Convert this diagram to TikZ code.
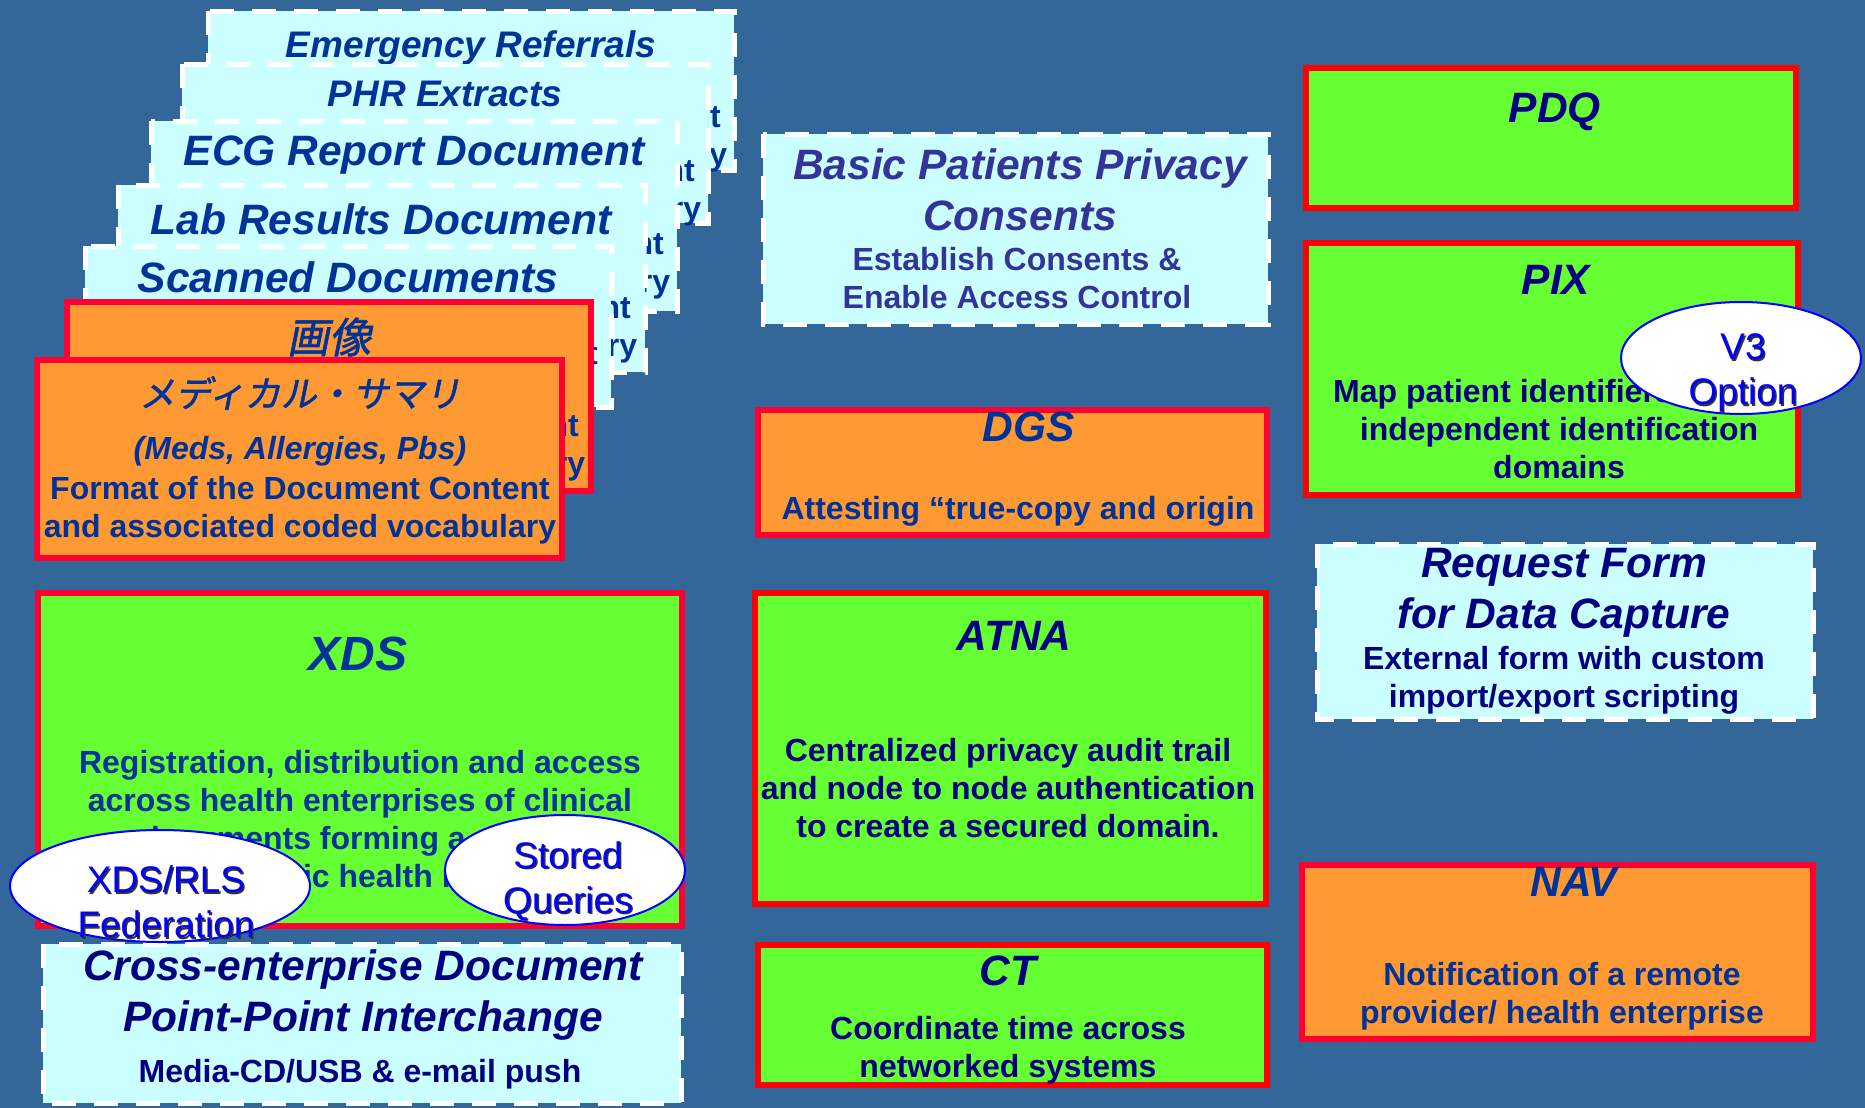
\documentclass[tikz,border=0pt]{standalone}
\usepackage{fontspec}
\setmainfont{Liberation Sans}
\newfontfamily\jpfont[FakeSlant=0.2,FakeBold=1.5]{Noto Sans CJK JP}

\definecolor{bgblue}{RGB}{51,102,153}
\definecolor{paleCyan}{RGB}{204,255,255}
\definecolor{limeGreen}{RGB}{102,255,51}
\definecolor{paleOrange}{RGB}{255,153,51}
\definecolor{redA}{RGB}{255,0,0}
\definecolor{redB}{RGB}{255,0,51}
\definecolor{inkA}{RGB}{0,51,153}
\definecolor{inkB}{RGB}{0,0,128}
\definecolor{inkC}{RGB}{51,51,153}

\tikzset{
  cardbox/.style={fill=paleCyan, draw=white, line width=2.5pt, dash pattern=on 12pt off 9pt},
  greenbox/.style={fill=limeGreen, draw=redA, line width=3pt},
  orangebox/.style={fill=paleOrange, draw=redB, line width=3pt},
  bubble/.style={fill=white, draw=blue, line width=1pt},
  bigtitle/.style={font=\fontsize{21.25}{25.5}\selectfont\bfseries\itshape, align=center, inner sep=0pt},
  smalltitle/.style={font=\fontsize{18.5}{22}\selectfont\bfseries\itshape, align=center, inner sep=0pt},
  blurb/.style={font=\fontsize{16}{19}\selectfont\bfseries, align=center, inner sep=0pt},
  jptitle/.style={font={\jpfont\fontsize{#1}{#1}\selectfont}, inner sep=0pt},
  bubtext/.style={font=\fontsize{18.5}{22.5}\selectfont, align=center, inner sep=0pt, text=blue},
  bubshadow/.style={bubtext, text=black!80}
}

\begin{document}
\begin{tikzpicture}[x=0.5pt,y=-0.5pt]
  % Background
  \fill[bgblue] (0,0) rectangle (1865,1108);
  % Content profiles, back to front
  \draw[cardbox] (208,11) rectangle (734,170);
  \node[smalltitle,text=inkA] (emergTitle) at (471,48) {Emergency Referrals};
  \node[blurb,text=inkA] (emergText) at (471,138) {Format of the Document Content\\and associated coded vocabulary};
  \draw[cardbox] (182,64) rectangle (708,223);
  \node[smalltitle,text=inkA] (phrTitle) at (445,94) {PHR Extracts};
  \node[blurb,text=inkA] (phrText) at (445,192) {Format of the Document Content\\and associated coded vocabulary};
  \draw[cardbox] (151,121) rectangle (677,311);
  \node[bigtitle,text=inkA] (ecgTitle) at (414,155) {ECG Report Document};
  \node[blurb,text=inkA] (ecgText) at (414,265) {Format of the Document Content\\and associated coded vocabulary};
  \draw[cardbox] (118,185) rectangle (645,372);
  \node[bigtitle,text=inkA] (labTitle) at (381,219) {Lab Results Document};
  \node[blurb,text=inkA] (labText) at (381,329) {Format of the Document Content\\and associated coded vocabulary};
  \draw[cardbox] (85,246) rectangle (611,407);
  \node[bigtitle,text=inkA] (scanTitle) at (348,277) {Scanned Documents};
  \node[blurb,text=inkA] (scanText) at (348,353) {Format of the Document Content};
  \draw[orangebox] (67,302) rectangle (591,491);
  \node[jptitle=21,text=inkA] (imgTitle) at (329,337) {画像};
  \node[blurb,text=inkA] (imgText) at (329,447) {Format of the Document Content\\and associated coded vocabulary};
  \draw[orangebox] (37,360) rectangle (562,558);
  \node[jptitle=18,text=inkA] (sumTitle) at (300,393) {メディカル・サマリ};
  \node[blurb,text=inkA,font=\fontsize{16}{19}\selectfont\bfseries\itshape] (sumMeds) at (300,451) {(Meds, Allergies, Pbs)};
  \node[blurb,text=inkA] (sumText) at (300,510) {Format of the Document Content\\and associated coded vocabulary};
  % Privacy and signatures
  \draw[cardbox] (763,134) rectangle (1268,324);
  \node[bigtitle,text=inkC] (bppcTitle) at (1020,190) {Basic Patients Privacy\\Consents};
  \node[blurb,text=inkC] (bppcText) at (1017,278) {Establish Consents \&\\Enable Access Control};
  \draw[orangebox] (758,410) rectangle (1267,535);
  \node[bigtitle,text=inkA] (dgsTitle) at (1029,427) {DGS};
  \node[blurb,text=inkA] (dgsText) at (1018,511) {Attesting “true-copy and origin};
  % Patient identity
  \draw[greenbox] (1306,68) rectangle (1796,208);
  \node[bigtitle,text=inkB] (pdqTitle) at (1555,112) {PDQ};
  \draw[greenbox] (1306,243) rectangle (1798,495);
  \node[bigtitle,text=inkB] (pixTitle) at (1556,280) {PIX};
  \node[blurb,text=inkB] (pixText) at (1559,429) {Map patient identifiers across\\independent identification\\domains};
  \draw[cardbox] (1317,544) rectangle (1813,719);
  \node[bigtitle,text=inkB] (rfdTitle) at (1564,593) {Request Form\\for Data Capture};
  \node[blurb,text=inkB] (rfdText) at (1564,680) {External form with custom\\import/export scripting};
  % Security
  \draw[greenbox] (755,593) rectangle (1266,904);
  \node[bigtitle,text=inkB] (atnaTitle) at (1014,636) {ATNA};
  \node[blurb,text=inkB] (atnaText) at (1008,788) {Centralized privacy audit trail\\and node to node authentication\\to create a secured domain.};
  \draw[greenbox] (758,945) rectangle (1267,1085);
  \node[bigtitle,text=inkB] (ctTitle) at (1008,971) {CT};
  \node[blurb,text=inkB] (ctText) at (1008,1050) {Coordinate time across\\networked systems};
  \draw[orangebox] (1302,865) rectangle (1813,1039);
  \node[bigtitle,text=inkA] (navTitle) at (1574,882) {NAV};
  \node[blurb,text=inkA] (navText) at (1562,996) {Notification of a remote\\provider/ health enterprise};
  % Document sharing
  \draw[orangebox,fill=limeGreen] (38,593) rectangle (682,926);
  \node[bigtitle,text=inkA,font=\fontsize{24}{28}\selectfont\bfseries\itshape] (xdsTitle) at (358,654) {XDS};
  \node[blurb,text=inkA] (xdsText) at (360,819) {Registration, distribution and access\\across health enterprises of clinical\\documents forming a patient\\electronic health record};
  \draw[cardbox] (43,944) rectangle (681,1103);
  \node[bigtitle,text=inkB] (xdmTitle) at (363,995) {Cross-enterprise Document\\Point-Point Interchange};
  \node[blurb,text=inkB] (xdmText) at (360,1074) {Media-CD/USB \& e-mail push};
  % Options
  \filldraw[bubble] (1741,358) ellipse [x radius=60pt, y radius=28pt];
  \node[bubshadow] (v3Shade) at (1744.5,374.5) {V3\\Option};
  \node[bubtext] (v3Text) at (1743,373) {V3\\Option};
  \filldraw[bubble] (160,886) ellipse [x radius=75pt, y radius=28pt];
  \node[bubshadow] (rlsShade) at (167.5,903.5) {XDS/RLS\\Federation};
  \node[bubtext] (rlsText) at (166,902) {XDS/RLS\\Federation};
  \filldraw[bubble] (565,870) ellipse [x radius=60pt, y radius=27.5pt];
  \node[bubshadow] (sqShade) at (569.5,882.5) {Stored\\Queries};
  \node[bubtext] (sqText) at (568,881) {Stored\\Queries};
\end{tikzpicture}
\end{document}
